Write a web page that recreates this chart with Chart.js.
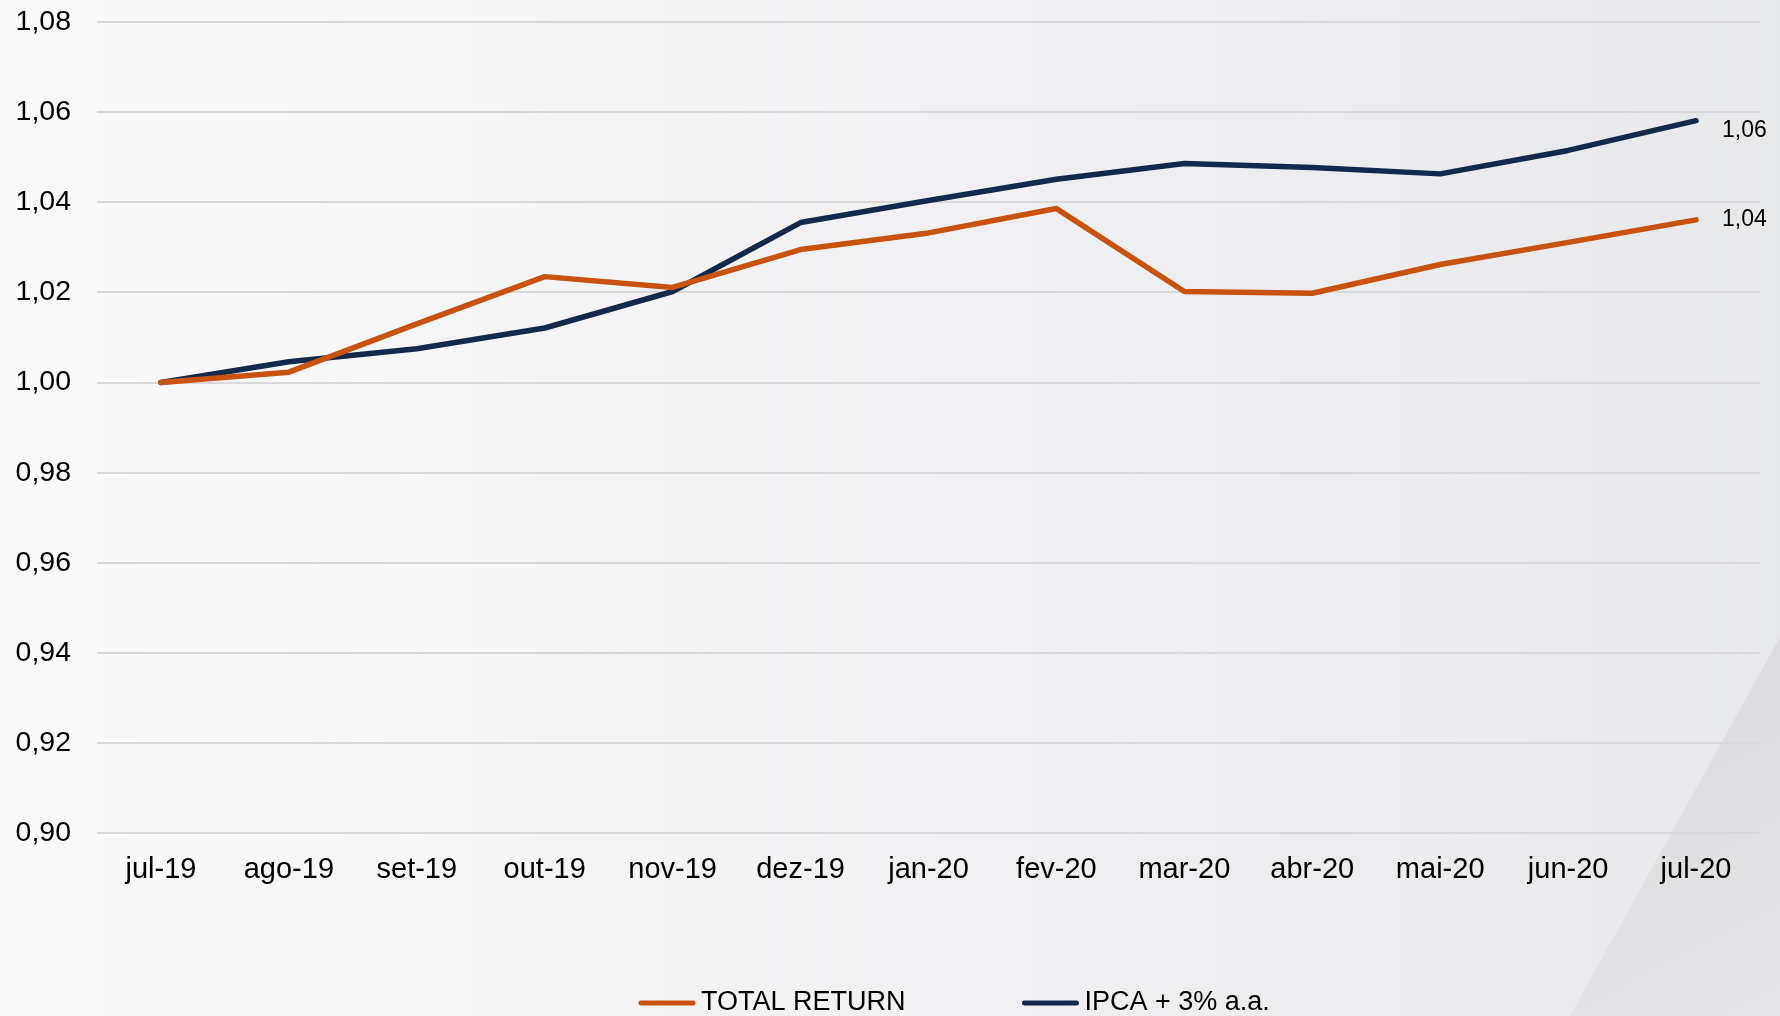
<!DOCTYPE html>
<html>
<head>
<meta charset="utf-8">
<script src="https://cdn.jsdelivr.net/npm/chart.js@4"></script>
<style>
    body { margin: 0; background: #f4f4f6; }
    #wrap { width: 1780px; height: 1016px; position: relative; }
</style>
</head>
<body>
<div id="wrap"><canvas id="return-chart"></canvas></div>
<script>
const MONTHS = ['jul-19', 'ago-19', 'set-19', 'out-19', 'nov-19', 'dez-19', 'jan-20',
    'fev-20', 'mar-20', 'abr-20', 'mai-20', 'jun-20', 'jul-20'];
const TOTAL_RETURN = [1.000, 1.0023, 1.0130, 1.0235, 1.0211, 1.0295, 1.0332,
    1.0386, 1.0202, 1.0198, 1.0262, 1.0311, 1.0361];
const IPCA_3 = [1.000, 1.0046, 1.0075, 1.0121, 1.0202, 1.0355, 1.0404,
    1.0451, 1.0486, 1.0477, 1.0463, 1.0515, 1.0581];
const SERIES_NAMES = ['TOTAL RETURN', 'IPCA + 3% a.a.'];
const Y_MIN = 0.90;
const Y_MAX = 1.08;
const Y_STEP = 0.02;

const COLORS = ['#c9520f', '#13294b'];
const FONT = '"Liberation Sans", Arial, sans-serif';

function formatComma(v) {
    return Number(v).toFixed(2).replace('.', ',');
}

// page background: soft grey gradient with the darker wedge bottom right
const backgroundPlugin = {
    id: 'background',
    beforeDraw(chart) {
        const {ctx, width, height} = chart;
        ctx.save();
        const g = ctx.createLinearGradient(0, 0, width, 0);
        g.addColorStop(0, '#fafafb');
        g.addColorStop(0.5, '#f1f1f3');
        g.addColorStop(1, '#e7e8ea');
        ctx.fillStyle = g;
        ctx.fillRect(0, 0, width, height);

        const w = ctx.createLinearGradient(width - 200, height - 380, width, height);
        w.addColorStop(0, '#dadadd');
        w.addColorStop(1, '#e5e5e7');
        ctx.fillStyle = w;
        ctx.beginPath();
        ctx.moveTo(width, height - 379);
        ctx.lineTo(width, height);
        ctx.lineTo(width - 210, height);
        ctx.closePath();
        ctx.fill();
        ctx.restore();
    }
};

// value label right of the last point of each line
const endLabelPlugin = {
    id: 'endLabels',
    afterDatasetsDraw(chart) {
        const {ctx} = chart;
        const yShift = [0, 10];
        ctx.save();
        ctx.font = '23px ' + FONT;
        ctx.fillStyle = '#000';
        ctx.textAlign = 'left';
        ctx.textBaseline = 'middle';
        chart.data.datasets.forEach((ds, i) => {
            const pts = chart.getDatasetMeta(i).data;
            const last = pts[pts.length - 1];
            ctx.fillText(formatComma(ds.data[ds.data.length - 1]), last.x + 26, last.y + yShift[i]);
        });
        ctx.restore();
    }
};

// legend drawn under the axis, line swatch + name
const legendPlugin = {
    id: 'lineLegend',
    afterDraw(chart) {
        const {ctx} = chart;
        let x = 639;
        const y = 1003;
        ctx.save();
        ctx.font = '27px ' + FONT;
        ctx.textBaseline = 'middle';
        chart.data.datasets.forEach((ds) => {
            ctx.strokeStyle = ds.borderColor;
            ctx.lineWidth = 5;
            ctx.lineCap = 'round';
            ctx.beginPath();
            ctx.moveTo(x + 2, y);
            ctx.lineTo(x + 54, y);
            ctx.stroke();
            ctx.fillStyle = '#000';
            ctx.fillText(ds.label, x + 62, y);
            x += 62 + ctx.measureText(ds.label).width + 117;
        });
        ctx.restore();
    }
};

function initDataset(label, data, color) {
    return {
        label: label,
        data: data,
        borderColor: color,
        backgroundColor: color,
        borderWidth: 5.5,
        borderCapStyle: 'round',
        borderJoinStyle: 'round',
        pointRadius: 0,
        tension: 0
    };
}

new Chart(document.getElementById('return-chart'), {
    type: 'line',
    data: {
        labels: MONTHS,
        datasets: [
            initDataset(SERIES_NAMES[0], TOTAL_RETURN, COLORS[0]),
            initDataset(SERIES_NAMES[1], IPCA_3, COLORS[1])
        ]
    },
    options: {
        responsive: true,
        maintainAspectRatio: false,
        animation: false,
        layout: {
            padding: {left: 16, top: 0, right: 20, bottom: 110}
        },
        plugins: {
            legend: {display: false},
            tooltip: {enabled: false}
        },
        scales: {
            x: {
                offset: true,
                grid: {display: false, drawTicks: false},
                border: {display: false},
                ticks: {
                    color: '#000',
                    padding: 19,
                    font: {family: FONT, size: 29}
                }
            },
            y: {
                min: Y_MIN,
                max: Y_MAX,
                border: {display: false},
                grid: {color: '#d9d9db', lineWidth: 2, drawTicks: false},
                ticks: {
                    stepSize: Y_STEP,
                    color: '#000',
                    padding: 26,
                    font: {family: FONT, size: 28.5},
                    callback: (v) => formatComma(v)
                },
                afterFit: (scale) => {
                    scale.width = 81;
                    scale.paddingTop = 22;
                    scale.paddingBottom = 17;
                }
            }
        }
    },
    plugins: [backgroundPlugin, endLabelPlugin, legendPlugin]
});
</script>
</body>
</html>
